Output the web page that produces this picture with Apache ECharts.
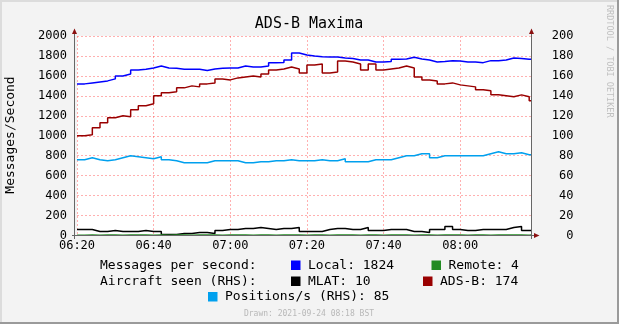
<!DOCTYPE html>
<html>
<head>
<meta charset="utf-8">
<script src="https://cdn.jsdelivr.net/npm/echarts@6/dist/echarts.min.js"></script>
<style>
html, body { margin: 0; padding: 0; background: #f3f3f3; }
#main { width: 619px; height: 324px; }
</style>
</head>
<body>
<div id="main"></div>
<script>
// minutes since 06:20, one value every 2 minutes
var STEP = 2;
var XMAX = 118.6;
var xTicks = ['06:20', '06:40', '07:00', '07:20', '07:40', '08:00'];

// messages per second (left axis)
var local = [1520,1530,1540,1550,1570,1600,1620,1660,1667,1680,
             1700,1680,1677,1667,1667,1667,1655,1670,1677,1680,
             1680,1700,1690,1690,1700,1733,1735,1760,1830,1810,
             1800,1793,1790,1790,1780,1775,1760,1760,1740,1740,
             1745,1767,1770,1787,1770,1760,1740,1745,1753,1750,
             1740,1740,1733,1753,1753,1760,1780,1775,1767,1767];
var remote = [3,4,3,5,4,3,4,4,5,3,
              4,3,4,4,3,5,4,4,3,4,
              4,5,3,4,4,3,4,5,4,3,
              4,4,3,4,5,4,3,4,4,3,
              4,5,4,3,4,4,3,4,5,4,
              3,4,4,3,4,5,4,4,3,4];
// aircraft seen / positions (right axis)
var mlat = [6,6,4,4,5,4,4,4,5,4,
            4,1,1,2,2,3,3,2,5,6,
            6,7,7,8,7,6,7,7,8,4,
            4,4,6,7,7,6,6,8,5,5,
            6,6,6,4,4,3,6,6,9,6,
            5,5,6,6,6,6,8,9,5,5];
var adsb = [100,101,108,113,118,120,119,126,130,132,
            140,143,144,148,150,149,152,153,157,156,
            158,159,160,159,162,166,167,169,167,163,
            171,172,163,164,175,174,172,166,172,166,
            167,168,170,168,159,156,155,152,153,151,
            150,149,146,145,141,140,139,141,139,135];
var positions = [76,78,76,75,76,78,80,79,78,77,
                 79,76,75,73,73,73,73,75,75,75,
                 75,73,73,74,74,75,75,76,75,75,
                 75,76,75,75,77,74,74,74,76,76,
                 76,78,80,80,82,82,78,80,80,80,
                 80,80,80,82,84,82,82,83,81,81];

var legendRows = [
  { label: 'Messages per second:', items: [['Local: 1824', '#0000ff'], ['Remote: 4', '#228b22']] },
  { label: 'Aircraft seen (RHS):', items: [['MLAT: 10', '#000000'], ['ADS-B: 174', '#990000']] }
];

var MONO = 'DejaVu Sans Mono';

function pairs(vals) {
  var out = [];
  for (var i = 0; i < vals.length; i++) out.push([i * STEP, vals[i]]);
  out.push([XMAX, vals[vals.length - 1]]);
  return out;
}

function stepLine(name, vals, color, axis) {
  return {
    name: name, type: 'line', step: 'end', yAxisIndex: axis,
    data: pairs(vals), symbol: 'none', animation: false,
    lineStyle: { color: color, width: 1.5 }
  };
}

var chart = echarts.init(document.getElementById('main'));

var gridStyle = { type: [2, 2], color: 'rgba(255,80,80,0.45)', width: 1 };
var axisCol = '#666';
var arrowCol = '#8b1010';

var graphics = [
  // frame
  { type: 'line', shape: { x1: 1, y1: 0, x2: 1, y2: 324 }, style: { stroke: '#dcdcdc', lineWidth: 2 } },
  { type: 'line', shape: { x1: 0, y1: 1, x2: 619, y2: 1 }, style: { stroke: '#dcdcdc', lineWidth: 2 } },
  { type: 'line', shape: { x1: 618, y1: 0, x2: 618, y2: 324 }, style: { stroke: '#9a9a9a', lineWidth: 2 } },
  { type: 'line', shape: { x1: 0, y1: 323, x2: 619, y2: 323 }, style: { stroke: '#9a9a9a', lineWidth: 2 } },
  // axes
  { type: 'line', z: 50, shape: { x1: 74.5, y1: 31, x2: 74.5, y2: 239 }, style: { stroke: axisCol, lineWidth: 1 } },
  { type: 'line', z: 50, shape: { x1: 531.5, y1: 31, x2: 531.5, y2: 239 }, style: { stroke: axisCol, lineWidth: 1 } },
  { type: 'line', z: 50, shape: { x1: 72, y1: 235.5, x2: 535, y2: 235.5 }, style: { stroke: axisCol, lineWidth: 1 } },
  { type: 'polygon', z: 51, shape: { points: [[74.5, 28.5], [72, 34], [77, 34]] }, style: { fill: arrowCol } },
  { type: 'polygon', z: 51, shape: { points: [[531.5, 28.5], [529, 34], [534, 34]] }, style: { fill: arrowCol } },
  { type: 'polygon', z: 51, shape: { points: [[539.5, 235.5], [534, 233], [534, 238]] }, style: { fill: arrowCol } },
  // titles
  { type: 'text', x: 309, y: 24, style: { text: 'ADS-B Maxima', font: '15px "' + MONO + '"', fill: '#000', align: 'center', verticalAlign: 'middle' } },
  { type: 'text', x: 11, y: 135, rotation: Math.PI / 2, style: { text: 'Messages/Second', font: '13px "' + MONO + '"', fill: '#000', align: 'center', verticalAlign: 'middle' } },
  { type: 'text', x: 609, y: 5, rotation: -Math.PI / 2, style: { text: 'RRDTOOL / TOBI OETIKER', font: '8.5px "' + MONO + '"', fill: '#c0c0c0', align: 'left', verticalAlign: 'middle' } },
  { type: 'text', x: 309, y: 313.5, style: { text: 'Drawn: 2021-09-24 08:18 BST', font: '8px "' + MONO + '"', fill: '#b8b8b8', align: 'center', verticalAlign: 'middle' } }
];

// legend
var rowY = [265.5, 281.5];
var itemX = [[291, 431.5], [291, 423]];
legendRows.forEach(function (row, r) {
  graphics.push({ type: 'text', x: 100, y: rowY[r], style: { text: row.label, font: '13px "' + MONO + '"', fill: '#000', verticalAlign: 'middle' } });
  row.items.forEach(function (it, k) {
    var x = itemX[r][k];
    graphics.push({ type: 'rect', shape: { x: x, y: rowY[r] - 5, width: 9.5, height: 9.5 }, style: { fill: it[1] } });
    graphics.push({ type: 'text', x: x + 17, y: rowY[r], style: { text: it[0], font: '13px "' + MONO + '"', fill: '#000', verticalAlign: 'middle' } });
  });
});
graphics.push({ type: 'rect', shape: { x: 208, y: 292, width: 9.5, height: 9.5 }, style: { fill: '#00a0ee' } });
graphics.push({ type: 'text', x: 225, y: 297, style: { text: 'Positions/s (RHS): 85', font: '13px "' + MONO + '"', fill: '#000', verticalAlign: 'middle' } });

chart.setOption({
  backgroundColor: '#f3f3f3',
  animation: false,
  grid: { left: 77, right: 87.5, top: 36, bottom: 88.5, show: true, backgroundColor: '#ffffff', borderWidth: 0 },
  xAxis: {
    type: 'value', min: 0, max: XMAX, interval: 20,
    axisLine: { show: false },
    axisTick: { show: false },
    splitLine: { show: true, lineStyle: gridStyle },
    axisLabel: {
      showMaxLabel: false, margin: 4, fontFamily: MONO, fontSize: 12, color: '#000',
      formatter: function (v) { return xTicks[Math.round(v / 20)] || ''; }
    }
  },
  yAxis: [
    {
      type: 'value', min: 0, max: 2000, interval: 200,
      axisLine: { show: false }, axisTick: { show: false },
      splitLine: { show: true, lineStyle: gridStyle },
      axisLabel: { margin: 10, fontFamily: MONO, fontSize: 12, color: '#000', formatter: function (v) { return String(v); } }
    },
    {
      type: 'value', min: 0, max: 200, interval: 20, position: 'right',
      axisLine: { show: false }, axisTick: { show: false },
      splitLine: { show: false },
      axisLabel: { margin: 42, align: 'right', fontFamily: MONO, fontSize: 12, color: '#000', formatter: function (v) { return String(v); } }
    }
  ],
  series: [
    stepLine('Positions/s', positions, '#00a0ee', 1),
    stepLine('MLAT', mlat, '#000000', 1),
    stepLine('Remote', remote, '#228b22', 0),
    stepLine('ADS-B', adsb, '#990000', 1),
    stepLine('Local', local, '#0000ff', 0)
  ],
  graphic: graphics
});
</script>
</body>
</html>
